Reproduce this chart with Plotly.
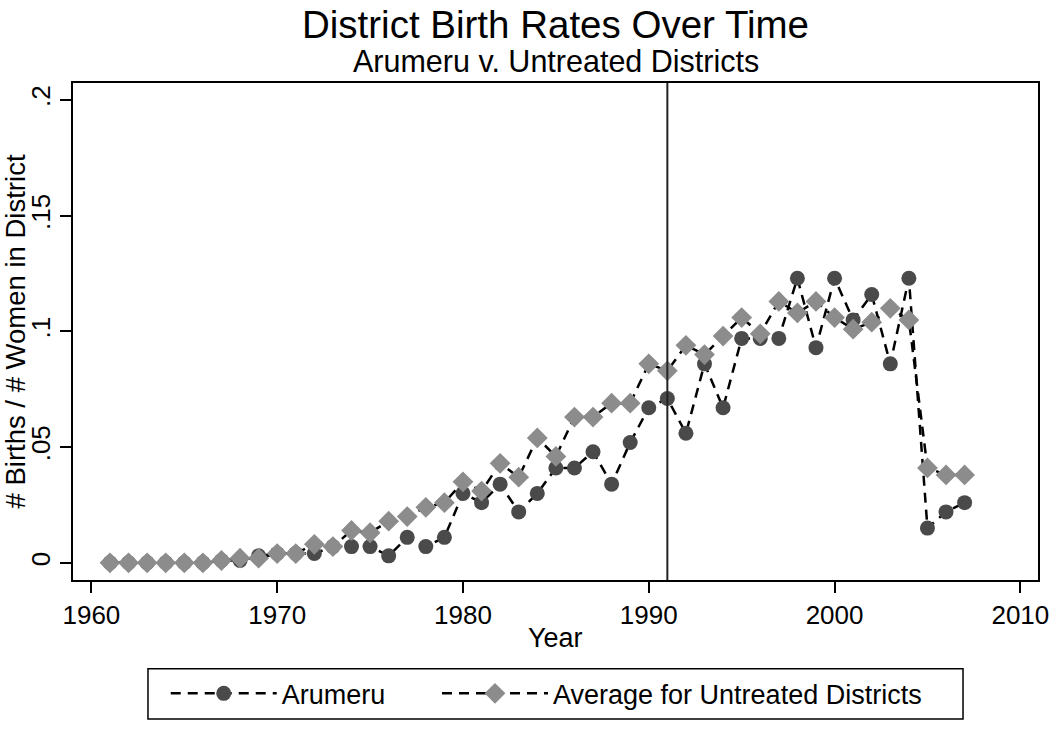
import plotly.graph_objects as go

years = list(range(1961, 2008))
arumeru = [0.000, 0.000, 0.000, 0.000, 0.000, 0.000, 0.001, 0.001, 0.003, 0.004,
           0.004, 0.004, 0.007, 0.007, 0.007, 0.003, 0.011, 0.007, 0.011, 0.030,
           0.026, 0.034, 0.022, 0.030, 0.041, 0.041, 0.048, 0.034, 0.052, 0.067,
           0.071, 0.056, 0.086, 0.067, 0.097, 0.097, 0.097, 0.123, 0.093, 0.123,
           0.105, 0.116, 0.086, 0.123, 0.015, 0.022, 0.026]
untreated = [0.000, 0.000, 0.000, 0.000, 0.000, 0.000, 0.001, 0.002, 0.002, 0.004,
             0.004, 0.008, 0.007, 0.014, 0.013, 0.018, 0.020, 0.024, 0.026, 0.035,
             0.031, 0.043, 0.037, 0.054, 0.046, 0.063, 0.063, 0.069, 0.069, 0.086,
             0.083, 0.094, 0.090, 0.098, 0.106, 0.099, 0.113, 0.108, 0.113, 0.106,
             0.101, 0.104, 0.110, 0.105, 0.041, 0.038, 0.038]
x_ticks = [1960, 1970, 1980, 1990, 2000, 2010]
y_ticks = [0, 0.05, 0.1, 0.15, 0.2]
y_tick_labels = ["0", ".05", ".1", ".15", ".2"]
treatment_year = 1991

FONT = "Liberation Sans, Arial, Helvetica, sans-serif"
DASH = "10px,7px"

fig = go.Figure()
fig.add_trace(go.Scatter(
    x=years, y=arumeru, name="Arumeru", mode="lines+markers",
    line=dict(color="black", width=2.5, dash=DASH),
    marker=dict(symbol="circle", size=15, color="#4a4a4a"),
    legend="legend",
))
fig.add_trace(go.Scatter(
    x=years, y=untreated, name="Average for Untreated Districts", mode="lines+markers",
    line=dict(color="black", width=2.5, dash=DASH),
    marker=dict(symbol="diamond", size=16, color="#8c8c8c"),
    legend="legend2",
))

fig.add_shape(type="line", xref="x", yref="paper", x0=treatment_year, x1=treatment_year,
              y0=0, y1=1, line=dict(color="#222222", width=2))
# legend frame
fig.add_shape(type="rect", xref="paper", yref="paper", x0=0.0777, x1=0.9223,
              y0=-0.1786, y1=-0.2798, line=dict(color="black", width=1.5),
              fillcolor="rgba(0,0,0,0)")

leg_common = dict(orientation="h", yanchor="middle", y=-0.229, xanchor="left",
                  bgcolor="rgba(0,0,0,0)", borderwidth=0, font=dict(size=27),
                  itemwidth=106)

fig.update_layout(
    width=1050, height=730,
    margin=dict(l=73, r=12, t=83, b=143),
    paper_bgcolor="white", plot_bgcolor="white",
    font=dict(family=FONT, color="black", size=26),
    showlegend=True,
    legend=dict(x=0.0961, **leg_common),
    legend2=dict(x=0.3772, **leg_common),
    annotations=[
        dict(text="District Birth Rates Over Time", x=0.5, xref="paper", y=1.117, yref="paper",
             showarrow=False, font=dict(size=38.5), xanchor="center", yanchor="middle"),
        dict(text="Arumeru v. Untreated Districts", x=0.5, xref="paper", y=1.044, yref="paper",
             showarrow=False, font=dict(size=30.5), xanchor="center", yanchor="middle"),
        dict(text="Year", x=0.5, xref="paper", y=-0.117, yref="paper",
             showarrow=False, font=dict(size=27), xanchor="center", yanchor="middle"),
        dict(text="# Births / # Women in District", x=-0.0601, xref="paper", y=0.5, yref="paper",
             showarrow=False, font=dict(size=27.5), xanchor="center", yanchor="middle",
             textangle=-90),
    ],
)

fig.update_xaxes(range=[1959.01, 2010.95], tickvals=x_ticks, ticks="outside", ticklen=11,
                 tickcolor="black", tickwidth=2, showgrid=False, zeroline=False,
                 showline=True, linecolor="black", linewidth=2, mirror=True,
                 automargin=False, tickfont=dict(size=26))
fig.update_yaxes(range=[-0.00743, 0.2074], tickvals=y_ticks, ticktext=y_tick_labels,
                 ticks="outside", ticklen=11, tickcolor="black", tickwidth=2,
                 tickangle=-90, showgrid=False, zeroline=False,
                 showline=True, linecolor="black", linewidth=2, mirror=True,
                 automargin=False, tickfont=dict(size=26))

# remove the default page margin so the 1050x730 figure fills the window exactly
fig.write_html("out.html", config={"displayModeBar": False},
               post_script="document.body.style.margin='0';")
